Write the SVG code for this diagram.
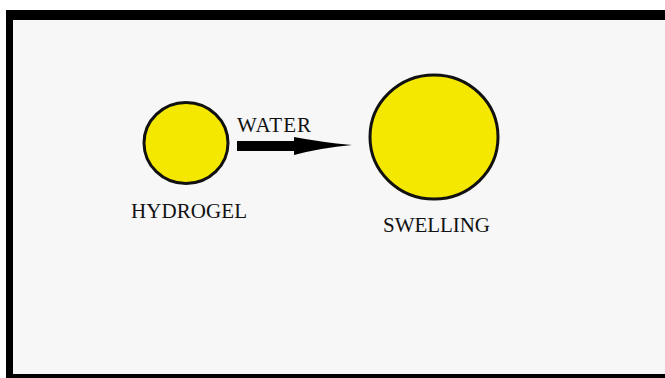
<svg xmlns="http://www.w3.org/2000/svg" width="665" height="378" viewBox="0 0 665 378">
<style>
.lbl{font-family:"Liberation Serif","Times New Roman",serif;font-size:21px;fill:#111}
.ball{fill:#f5e800;stroke:#111;stroke-width:3}
</style>
<rect x="0" y="0" width="665" height="378" fill="#ffffff"/>
<rect x="6" y="10" width="659" height="368" fill="#000"/>
<rect x="13" y="20" width="652" height="354" fill="#f7f7f7"/>
<g id="hydrogel">
<ellipse class="ball" cx="186" cy="143" rx="42" ry="40.5"/>
<text class="lbl" x="131" y="218" textLength="116">HYDROGEL</text>
</g>
<g id="swelling">
<ellipse class="ball" cx="434" cy="137" rx="64" ry="62"/>
<text class="lbl" x="383" y="232" textLength="107">SWELLING</text>
</g>
<g id="connectors">
<path d="M237,141 L294,141 L294,137 Q320,142 352,145 Q320,148 294,155 L294,151 L237,151 Z" fill="#000"/>
<text class="lbl" x="237" y="132" textLength="74">WATER</text>
</g>
</svg>
